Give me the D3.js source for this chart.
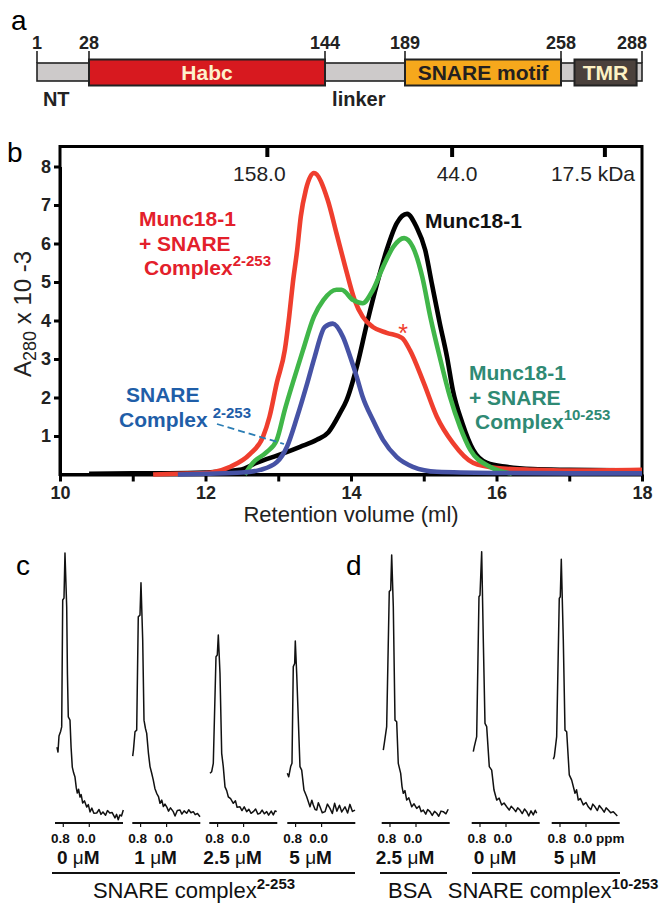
<!DOCTYPE html>
<html>
<head>
<meta charset="utf-8">
<script src="https://cdnjs.cloudflare.com/ajax/libs/d3/7.8.5/d3.min.js"></script>
<style>
body { margin: 0; background: #fff; }
text { font-family: "Liberation Sans", Arial, sans-serif; }
</style>
</head>
<body>
<script>
// ---------- panel a : syntaxin domain map ----------
var residueTicks = [1, 28, 144, 189, 258, 288];
var boxLabels = ["Habc", "SNARE motif", "TMR"];
var boxStart = [28, 189, 263];
var boxEnd = [144, 258, 286];
var regionLabels = ["NT", "linker"];
var regionResidue = [11, 163];

// ---------- panel b : gel filtration ----------
var xTicks = [10, 11, 12, 13, 14, 15, 16, 17, 18];
var yTicks = [1, 2, 3, 4, 5, 6, 7, 8];
var kdaLabels = ["158.0", "44.0", "17.5 kDa"];
var kdaVolume = [12.85, 15.39, 17.49];

var munc18 = [[10.4,0.02],[11,0.03],[11.5,0.03],[12,0.05],[12.47,0.12],[12.7,0.3],[13.07,0.55],[13.3,0.72],
  [13.53,0.9],[13.69,1.1],[13.85,1.6],[13.94,1.93],[14.08,2.8],[14.22,3.93],[14.36,4.97],[14.49,5.83],
  [14.63,6.53],[14.77,6.77],[14.9,6.43],[15.02,5.83],[15.11,4.97],[15.22,3.93],[15.32,3.05],[15.4,2.19],
  [15.53,1.34],[15.68,0.64],[15.87,0.3],[16.14,0.2],[16.5,0.14],[17,0.12],[18,0.1]];
var muncComplex2 = [[11.28,0],[11.6,0.02],[12.0,0.04],[12.1,0.06],[12.34,0.2],[12.61,0.53],[12.79,0.98],
  [12.88,1.5],[12.98,2.38],[13.09,3.23],[13.15,4.1],[13.2,4.97],[13.26,5.83],[13.31,6.7],[13.38,7.4],
  [13.49,7.83],[13.68,7.13],[13.8,6.27],[13.92,5.4],[14.05,4.53],[14.16,4.1],[14.3,3.83],[14.49,3.68],
  [14.7,3.55],[14.81,3.23],[15.0,2.38],[15.18,1.5],[15.4,0.82],[15.68,0.3],[16.0,0.17],[16.5,0.12],
  [17,0.1],[18,0.12]];
var muncComplex10 = [[12.54,0],[12.65,0.3],[12.84,0.58],[12.98,0.9],[13.09,1.68],[13.2,2.38],[13.34,3.23],
  [13.49,4.1],[13.62,4.53],[13.8,4.8],[13.87,4.8],[14.03,4.53],[14.16,4.45],[14.3,4.79],[14.44,5.39],
  [14.58,5.91],[14.73,6.14],[14.85,5.91],[14.98,5.13],[15.09,4.1],[15.22,3.05],[15.36,2.02],[15.5,1.23],
  [15.64,0.64],[15.91,0.2],[16.21,0.02]];
var snareComplex = [[11.62,0],[12.0,0.02],[12.5,0.05],[12.75,0.12],[12.98,0.32],[13.12,0.72],[13.26,1.5],
  [13.4,2.38],[13.5,3.05],[13.64,3.83],[13.75,3.92],[13.89,3.57],[13.99,3.05],[14.08,2.53],[14.16,2.02],
  [14.3,1.42],[14.44,0.9],[14.63,0.45],[14.85,0.2],[15.18,0.07],[16,0.04],[17,0.03],[18,0.03]];

// ---------- panels c, d : 1D NMR spectra (ppm, intensity) ----------
var ppmTicks = [0.8, 0.0];
var specC0 = [[0.994,28.1],[0.963,26.3],[0.932,32.2],[0.88,34],[0.849,35.6],[0.818,82.6],[0.778,83.3],[0.748,100],
  [0.695,80],[0.672,55],[0.646,39.3],[0.594,38.1],[0.56,28],[0.523,20.7],[0.48,18.5],[0.44,17],[0.4,13],
  [0.369,11.1],[0.33,12.5],[0.286,9.6],[0.25,10.5],[0.203,7.4],[0.15,8.2],[0.08,5.9],[0.03,6.8],[-0.022,4.1],
  [-0.08,5.5],[-0.14,3.6],[-0.228,3.7],[-0.3,5.0],[-0.36,3.2],[-0.42,4.1],[-0.5,2.9],[-0.56,4.6],[-0.63,3.7],
  [-0.7,3.9],[-0.79,1.9],[-0.84,3.2],[-0.89,1.2],[-0.94,3.0],[-0.99,2.6],[-1.046,4.8]];
var specC1 = [[1.043,24.8],[1.02,27],[0.972,33.8],[0.92,34.4],[0.871,76.4],[0.818,77],[0.788,89],[0.735,67.8],
  [0.695,38.1],[0.65,35],[0.612,33.2],[0.56,26],[0.51,20.9],[0.46,18.5],[0.409,15.9],[0.36,12.8],[0.305,11],
  [0.25,9.8],[0.203,7.3],[0.15,8.5],[0.1,6.1],[0.05,7.0],[-0.003,6],[-0.06,4.4],[-0.12,5.6],[-0.206,4.2],
  [-0.26,2.6],[-0.33,4.6],[-0.412,4.8],[-0.47,3.3],[-0.54,4.5],[-0.618,3.6],[-0.68,4.9],[-0.75,3.8],
  [-0.822,4.2],[-0.88,3.1],[-0.95,3.5],[-1.028,2.3]];
var specC2_5 = [[1.034,18.4],[0.982,19],[0.932,22.1],[0.849,61.6],[0.809,62.2],[0.778,69.6],[0.726,55.4],
  [0.674,25.8],[0.625,20.9],[0.572,13.4],[0.52,12],[0.471,9.7],[0.4,9],[0.317,7.3],[0.25,8.2],[0.2,5.8],
  [0.111,6],[0.05,4.6],[-0.02,6],[-0.095,4.2],[-0.16,5.1],[-0.23,3.6],[-0.298,4.2],[-0.37,5.2],[-0.44,3.3],
  [-0.505,3.6],[-0.57,4.8],[-0.64,3.4],[-0.711,4.2],[-0.77,2.9],[-0.85,4.4],[-0.914,3],[-0.97,4.5],[-1.018,4.2]];
var specC5 = [[1.055,18.4],[1.012,17.1],[0.951,20.9],[0.911,22.1],[0.871,57.9],[0.828,59.1],[0.809,67.4],
  [0.766,55.4],[0.665,20.9],[0.612,19.6],[0.542,12.2],[0.458,9.7],[0.357,6],[0.3,8.4],[0.255,6.7],[0.2,5.0],
  [0.151,4.8],[0.1,7.5],[0.049,6],[-0.02,3.8],[-0.105,4.2],[-0.18,7.0],[-0.258,5.4],[-0.33,3.5],[-0.4,7.3],
  [-0.47,4.4],[-0.55,6.6],[-0.62,4.1],[-0.72,6],[-0.8,3.7],[-0.87,6.9],[-0.95,4.3],[-1.028,4.8]];
var specDBSA = [[1.006,27],[0.975,29.5],[0.902,35.7],[0.822,85.7],[0.778,86.3],[0.748,99.3],[0.698,80.1],
  [0.646,38.1],[0.594,37.5],[0.545,22.1],[0.471,18.4],[0.43,13.5],[0.391,11],[0.34,12],[0.286,8.5],[0.22,9.3],
  [0.132,6],[0.06,7.1],[-0.022,5.4],[-0.1,6.3],[-0.16,4.2],[-0.225,4.8],[-0.3,3.3],[-0.36,5.0],[-0.431,4.2],
  [-0.5,2.8],[-0.57,4.3],[-0.637,3.6],[-0.7,2.5],[-0.77,4.4],[-0.84,4.2],[-0.92,3.4],[-0.991,5.1]];
var specD0 = [[1.006,26.4],[0.975,28.3],[0.902,32],[0.831,83.8],[0.8,84.4],[0.748,100.5],[0.698,67.8],
  [0.646,36.9],[0.594,35.7],[0.514,20.9],[0.44,19.6],[0.369,12.2],[0.286,8.5],[0.21,9.2],[0.132,6.7],[0.06,7.4],
  [-0.022,6],[-0.1,4.8],[-0.16,6.2],[-0.225,5.4],[-0.3,4.2],[-0.36,5.6],[-0.431,4.8],[-0.5,3.5],[-0.57,5.2],
  [-0.637,4.2],[-0.7,2.6],[-0.77,4.5],[-0.84,3],[-0.9,4.7],[-0.945,3.6]];
var specD5 = [[1.006,23.6],[0.975,24.6],[0.902,32],[0.822,83.2],[0.791,83.8],[0.76,97.7],[0.698,67.8],
  [0.646,34.4],[0.594,33.8],[0.514,17.8],[0.44,15.9],[0.338,11],[0.29,12.3],[0.237,8.5],[0.17,9.1],[0.083,6.7],
  [0.0,7.6],[-0.071,6],[-0.15,4.9],[-0.21,7.0],[-0.277,6],[-0.35,4.6],[-0.41,6.5],[-0.483,5.4],[-0.56,4.0],
  [-0.62,5.6],[-0.686,4.8],[-0.76,3.8],[-0.84,4.2],[-0.9,3.4],[-0.963,2.6]];
var concC = ["0", "1", "2.5", "5"];
var concD = ["2.5", "0", "5"];

var svg = d3.select("body").append("svg").attr("width", 660).attr("height", 909);

function panelLetter(t, x, y) {
  svg.append("text").attr("x", x).attr("y", y).attr("font-size", 28).text(t);
}

// ================= panel a =================
panelLetter("a", 11, 30);
var rx = d3.scaleLinear().domain(residueTicks).range([37, 89, 325, 405, 561, 642]);
var ga = svg.append("g");
var boxFill = ["#d7191f", "#f6a81c", "#4b413c"];
var boxText = ["#fdf1cc", "#231f20", "#fdf1c4"];
ga.append("rect").attr("x", rx(1)).attr("y", 63).attr("width", rx(288) - rx(1)).attr("height", 18)
  .attr("fill", "#cdcaca").attr("stroke", "#222").attr("stroke-width", 1.6);
residueTicks.forEach(function (r, i) {
  ga.append("line").attr("x1", rx(r)).attr("x2", rx(r)).attr("y1", 51).attr("y2", 63)
    .attr("stroke", "#222").attr("stroke-width", 1.6);
  var last = i == residueTicks.length - 1;
  ga.append("text").attr("x", last ? rx(r) + 5 : rx(r)).attr("y", 49)
    .attr("text-anchor", last ? "end" : "middle").attr("font-size", 18).attr("font-weight", "bold")
    .attr("fill", "#222").text(r);
});
boxLabels.forEach(function (b, i) {
  ga.append("rect").attr("x", rx(boxStart[i])).attr("y", 59.5).attr("width", rx(boxEnd[i]) - rx(boxStart[i]))
    .attr("height", 26).attr("fill", boxFill[i]).attr("stroke", "#222").attr("stroke-width", 2);
  ga.append("text").attr("x", (rx(boxStart[i]) + rx(boxEnd[i])) / 2).attr("y", 80)
    .attr("text-anchor", "middle").attr("font-size", 21).attr("font-weight", "bold")
    .attr("fill", boxText[i]).text(b);
});
regionLabels.forEach(function (l, i) {
  ga.append("text").attr("x", rx(regionResidue[i])).attr("y", 106).attr("text-anchor", "middle")
    .attr("font-size", 20).attr("font-weight", "bold").attr("fill", "#222").text(l);
});

// ================= panel b =================
panelLetter("b", 7, 162);
var x = d3.scaleLinear().domain([10, 18]).range([60, 642]);
var y = d3.scaleLinear().domain([0, 8]).range([474.5, 166.5]);
var gb = svg.append("g");
gb.append("rect").attr("x", 60).attr("y", 146.5).attr("width", 582).attr("height", 328)
  .attr("fill", "none").attr("stroke", "#000").attr("stroke-width", 3);

var xAxis = d3.axisBottom(x).tickValues(xTicks).tickSize(7).tickSizeOuter(0).tickPadding(5)
  .tickFormat(function (d) { return d % 2 == 0 ? d : ""; });
var gx = gb.append("g").attr("transform", "translate(0,474.5)").call(xAxis);
var yAxis = d3.axisLeft(y).tickValues(yTicks).tickSize(6).tickSizeOuter(0).tickPadding(3);
var gy = gb.append("g").attr("transform", "translate(60,0)").call(yAxis);
[gx, gy].forEach(function (g) {
  g.selectAll("path,line").attr("stroke", "#000").attr("stroke-width", 3);
  g.selectAll("text").attr("font-size", 18).attr("font-weight", "bold").attr("fill", "#222")
    .attr("font-family", '"Liberation Sans", Arial, sans-serif');
});

// kDa markers along the top
var kdaShift = [-8, 5, 0];
kdaVolume.forEach(function (v, i) {
  gb.append("line").attr("x1", x(v)).attr("x2", x(v)).attr("y1", 146).attr("y2", 157)
    .attr("stroke", "#000").attr("stroke-width", 4);
  var last = i == kdaVolume.length - 1;
  gb.append("text").attr("x", last ? 635 : x(v) + kdaShift[i]).attr("y", 181)
    .attr("text-anchor", last ? "end" : "middle").attr("font-size", 21).attr("fill", "#222").text(kdaLabels[i]);
});

var line = d3.line().x(function (d) { return x(d[0]); }).y(function (d) { return y(d[1]); })
  .curve(d3.curveMonotoneX);
var series = [munc18, muncComplex2, muncComplex10, snareComplex];
var seriesColor = ["#000000", "#ef3e2e", "#40b649", "#4652a5"];
series.forEach(function (s, i) {
  gb.append("path").datum(s).attr("d", line).attr("fill", "none").attr("stroke", seriesColor[i])
    .attr("stroke-width", 4.6).attr("stroke-linejoin", "round").attr("stroke-linecap", "butt");
});

// axis titles
gb.append("text").attr("x", 351).attr("y", 522).attr("text-anchor", "middle").attr("font-size", 22)
  .attr("fill", "#222").text("Retention volume (ml)");
var yt = gb.append("text").attr("transform", "translate(31,377) rotate(-90)").attr("font-size", 24).attr("fill", "#222");
yt.append("tspan").text("A");
yt.append("tspan").attr("dy", 5).attr("font-size", 18).text("280");
yt.append("tspan").attr("dy", -5).text(" x 10 -3");

// curve annotations
function annot(lines, x0, y0, color, sup, supDx) {
  var t = gb.append("g");
  lines.forEach(function (l, i) {
    var tx = t.append("text").attr("x", x0[i]).attr("y", y0 + i * 24.5).attr("font-size", 21)
      .attr("font-weight", "bold").attr("fill", color).text(l);
    if (i == lines.length - 1 && sup) {
      tx.append("tspan").attr("dx", supDx || 0).attr("dy", -9).attr("font-size", 15).text(sup);
    }
  });
}
annot(["Munc18-1", "+ SNARE", "Complex"], [139, 139, 144], 226, "#e3202b", "2-253");
annot(["Munc18-1"], [425], 228, "#111");
annot(["Munc18-1", "+ SNARE", "Complex"], [469, 469, 475], 380, "#2f8a74", "10-253");
annot(["SNARE", "Complex"], [126, 119], 402, "#1f5ea8", "2-253", 5);
gb.append("line").attr("x1", 217).attr("y1", 424).attr("x2", 284).attr("y2", 444)
  .attr("stroke", "#2b7db4").attr("stroke-width", 1.8).attr("stroke-dasharray", "7,4");
gb.append("text").attr("x", 403).attr("y", 342).attr("text-anchor", "middle").attr("font-size", 25)
  .attr("fill", "#ef3e2e").text("*");

// ================= panels c, d =================
panelLetter("c", 16, 575);
panelLetter("d", 346, 575);
var ppm = d3.scaleLinear().domain([1.055, -1.037]).range([0, 68]);
var inten = d3.scaleLinear().domain([0, 100]).range([823, 553]);
var specLine = d3.line().x(function (d) { return ppm(d[0]); }).y(function (d) { return inten(d[1]); });

var spectra = [specC0, specC1, specC2_5, specC5, specDBSA, specD0, specD5];
var specLabels = concC.concat(concD);
var specLeft = [55, 132.3, 209.3, 287.3, 381.7, 471.7, 551.7];
spectra.forEach(function (s, i) {
  var g = svg.append("g").attr("transform", "translate(" + specLeft[i] + ",0)");
  g.append("path").datum(s).attr("d", specLine).attr("fill", "none").attr("stroke", "#111")
    .attr("stroke-width", 1.5).attr("stroke-linejoin", "round");
  g.append("line").attr("x1", 0).attr("x2", 68).attr("y1", inten(0)).attr("y2", inten(0))
    .attr("stroke", "#111").attr("stroke-width", 2);
  ppmTicks.forEach(function (p) {
    g.append("line").attr("x1", ppm(p)).attr("x2", ppm(p)).attr("y1", inten(0)).attr("y2", inten(0) + 4)
      .attr("stroke", "#111").attr("stroke-width", 1.2);
    g.append("text").attr("x", ppm(p) - 3).attr("y", 843).attr("text-anchor", "middle")
      .attr("font-size", 13.5).attr("font-weight", "bold").attr("fill", "#111").text(p.toFixed(1));
  });
  if (i == spectra.length - 1) {
    g.append("text").attr("x", ppm(0) + 10).attr("y", 843).attr("font-size", 13.5)
      .attr("font-weight", "bold").attr("fill", "#111").text("ppm");
  }
  var lt = g.append("text").attr("x", ppm(0.4) + 2).attr("y", 864).attr("text-anchor", "middle")
    .attr("font-size", 19).attr("font-weight", "bold").attr("fill", "#111");
  lt.append("tspan").text(specLabels[i] + " ");
  lt.append("tspan").attr("font-weight", "normal").text("\u03bc");
  lt.append("tspan").text("M");
});

// group brackets and titles
var groupX1 = [52, 380, 472];
var groupX2 = [355, 447, 620];
var groupTitle = ["SNARE complex", "BSA", "SNARE complex"];
var groupSup = ["2-253", "", "10-253"];
var groupCenter = [194, 410, 553];
groupX1.forEach(function (a, i) {
  svg.append("line").attr("x1", a).attr("x2", groupX2[i]).attr("y1", 873).attr("y2", 873)
    .attr("stroke", "#111").attr("stroke-width", 2);
  var t = svg.append("text").attr("x", groupCenter[i]).attr("y", 898)
    .attr("text-anchor", "middle").attr("font-size", 22).attr("fill", "#111").text(groupTitle[i]);
  if (groupSup[i]) t.append("tspan").attr("dy", -9).attr("font-size", 15).attr("font-weight", "bold").text(groupSup[i]);
});
</script>
</body>
</html>
